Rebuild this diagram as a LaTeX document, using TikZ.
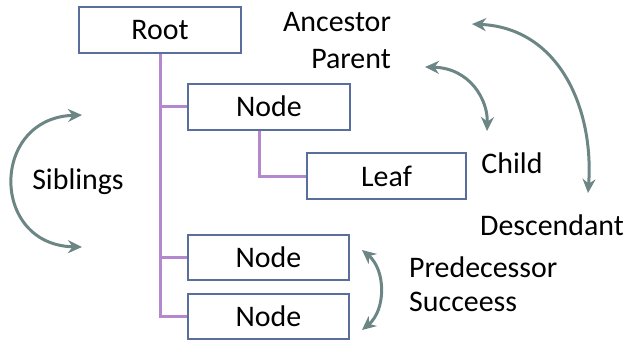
\documentclass[tikz,border=0pt]{standalone}
\usepackage{fontspec}
\setmainfont{Carlito}
\usetikzlibrary{arrows.meta}
\definecolor{boxblue}{HTML}{5A6E9E}
\definecolor{linkpurple}{HTML}{B388CF}
\definecolor{arcgray}{HTML}{6C8585}
\tikzset{
  treebox/.style={draw=boxblue, line width=2bp, minimum height=46bp, inner sep=0pt},
  treelink/.style={draw=linkpurple, line width=3bp},
  relarc/.style={draw=arcgray, line width=3bp, {Stealth[length=14bp,width=13bp]}-{Stealth[length=14bp,width=13bp]}},
  lbl/.style={inner sep=0pt}
}
\begin{document}
\begin{tikzpicture}[x=1bp,y=-1bp,font=\fontsize{30}{35}\selectfont]
  \useasboundingbox (0,0) rectangle (627,341);
  \node[treebox, minimum width=162bp] (root) at (160,30) {Root};
  \node[treebox, minimum width=162bp] (n1) at (269,106.5) {Node};
  \node[treebox, minimum width=159bp] (leaf) at (386.5,176) {Leaf};
  \node[treebox, minimum width=161bp, minimum height=45bp] (n2) at (268.5,257.5) {Node};
  \node[treebox, minimum width=161bp, minimum height=45bp] (n3) at (268.5,316.5) {Node};
  \draw[treelink] (root.south) -- (root.south |- n3.west) -- (n3.west);
  \draw[treelink] (root.south |- n1.west) -- (n1.west);
  \draw[treelink] (root.south |- n2.west) -- (n2.west);
  \draw[treelink] ([xshift=-10bp]n1.south) |- (leaf.west);
  \node[lbl] (anc) at (337,22) {Ancestor};
  \node[lbl] (par) at (351,59) {Parent};
  \node[lbl] (chi) at (512,163) {Child};
  \node[lbl] (des) at (552,225) {Descendant};
  \node[lbl] (sib) at (78,182) {Siblings};
  \node[lbl, anchor=west] (pre) at (409,267) {Predecessor};
  \node[lbl, anchor=west] (suc) at (409,302) {Succeess};
  \coordinate (sibtop) at (82,115);
  \coordinate (sibbot) at (82,247);
  \coordinate (partip) at (425,67);
  \coordinate (chitip) at (487,131);
  \coordinate (anctip) at (472,24);
  \coordinate (destip) at (588,193);
  \coordinate (pretip) at (362,250);
  \coordinate (suctip) at (362,330);
  \draw[relarc] (sibtop) .. controls (-10,118) and (-10,245) .. (sibbot);
  \draw[relarc] (partip) .. controls (470,68) and (488,100) .. (chitip);
  \draw[relarc] (anctip) .. controls (560,28) and (594,110) .. (destip);
  \draw[relarc] (pretip) .. controls (386,270) and (386,310) .. (suctip);
\end{tikzpicture}
\end{document}
